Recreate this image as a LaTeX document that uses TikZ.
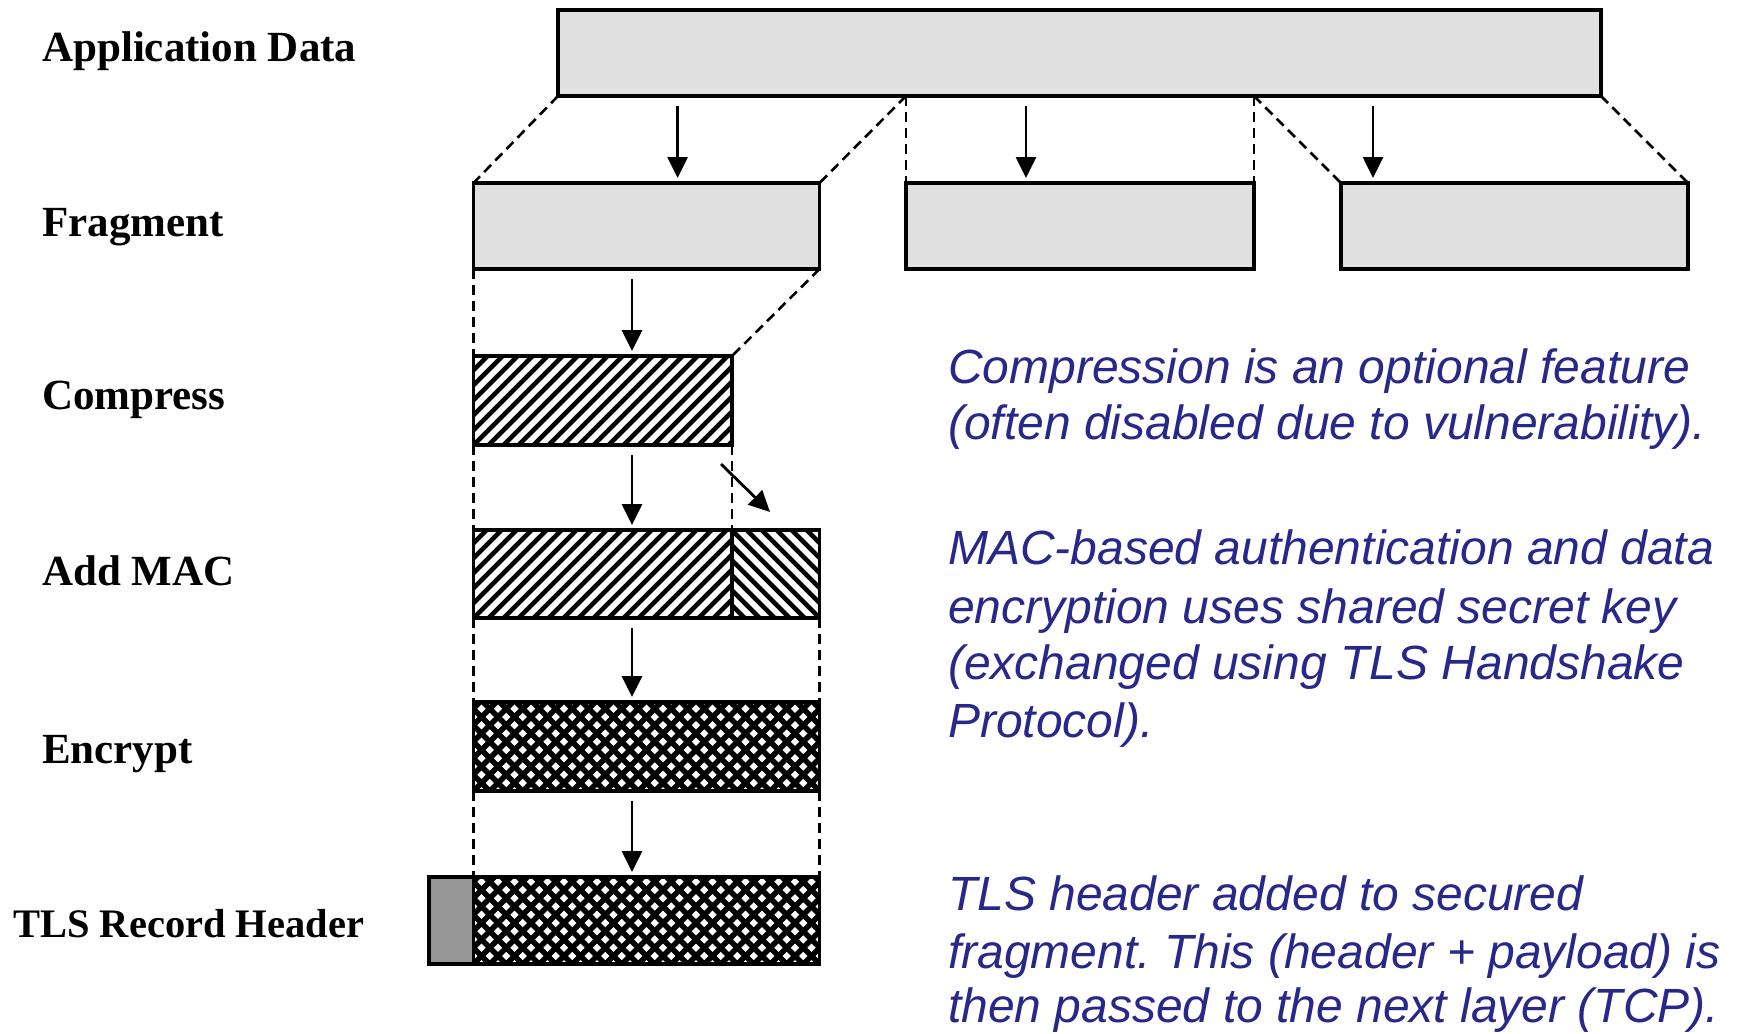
\documentclass[tikz,border=0pt]{standalone}
\usepackage{fontspec}
\setmainfont{Liberation Serif}
\setsansfont{Liberation Sans}
\usetikzlibrary{arrows.meta,calc}
\definecolor{fraggray}{RGB}{224,224,224}
\definecolor{hdrgray}{RGB}{150,150,150}
\definecolor{notecol}{RGB}{40,40,138}
\frenchspacing

\tikzset{
  blk/.style={draw, line width=3.6pt, rectangle, inner sep=0pt, outer sep=0pt, anchor=north west},
  dashedge/.style={line width=2.6pt, dash pattern=on 10pt off 6pt},
  arr/.style={line width=2.8pt, -{Triangle[length=21pt,width=20pt]}, shorten <=10pt, shorten >=5pt},
  lab/.style={anchor=base west, inner sep=0pt, font=\bfseries\fontsize{43}{50}\selectfont},
  note/.style={anchor=base west, inner sep=0pt, text=notecol, font=\sffamily\itshape\fontsize{48}{57}\selectfont},
  % single diagonal hatching, rising to the right
  hatchNE/.style={path picture={
    \foreach \k in {-10,...,28}
      \draw[line width=4.6pt] ([xshift=\k*15pt]path picture bounding box.south west) -- ++(130,-130);
  }},
  % single diagonal hatching, rising to the left
  hatchNW/.style={path picture={
    \foreach \k in {-28,...,10}
      \draw[line width=4.6pt] ([xshift=\k*15pt]path picture bounding box.south east) -- ++(-130,-130);
  }},
  % cross hatching for encrypted data
  hatchX/.style={path picture={
    \foreach \k in {-10,...,30}{
      \draw[line width=5.4pt] ([xshift=\k*16.5pt]path picture bounding box.south west) -- ++(130,-130);
      \draw[line width=5.4pt] ([xshift=-\k*16.5pt]path picture bounding box.south east) -- ++(-130,-130);
    }
  }},
}

\begin{document}
\begin{tikzpicture}[x=1pt,y=-1pt]
\fill[white] (0,0) rectangle (1739,1033);
\useasboundingbox (0,0) rectangle (1739,1033);

% record stages
\node[blk, fill=fraggray, minimum width=1043pt, minimum height=86pt] (app) at (558,10) {};
\node[blk, fill=fraggray, minimum width=346pt, minimum height=86pt] (f1) at (473.5,183) {};
\node[blk, fill=fraggray, minimum width=348pt, minimum height=86pt] (f2) at (906,183) {};
\node[blk, fill=fraggray, minimum width=347pt, minimum height=86pt] (f3) at (1341,183) {};
\node[blk, fill=white, hatchNE, minimum width=258.5pt, minimum height=89pt] (comp) at (473.5,356) {};
\node[blk, fill=white, hatchNE, minimum width=258.5pt, minimum height=88pt] (macL) at (473.5,530) {};
\node[blk, fill=white, hatchNW, minimum width=87.5pt, minimum height=88pt] (macR) at (732,530) {};
\node[blk, fill=white, hatchX, minimum width=346pt, minimum height=89pt] (enc) at (473.5,702) {};
\node[blk, fill=hdrgray, minimum width=44.5pt, minimum height=87pt] (hdr) at (429,877) {};
\node[blk, fill=white, hatchX, minimum width=346pt, minimum height=87pt] (pay) at (473.5,877) {};

% split points on the application data
\coordinate (s1) at (app.south west -| f2.north west);
\coordinate (s2) at (app.south west -| f2.north east);

% dashed outlines between stages
\draw[dashedge] (app.south west) -- (f1.north west);
\draw[dashedge] (s1) -- (f1.north east);
\draw[dashedge] (s1) -- (f2.north west);
\draw[dashedge] (s2) -- (f2.north east);
\draw[dashedge] (s2) -- (f3.north west);
\draw[dashedge] (app.south east) -- (f3.north east);
\draw[dashedge] (f1.south west) -- (comp.north west);
\draw[dashedge] (f1.south east) -- (comp.north east);
\draw[dashedge] (comp.south west) -- (macL.north west);
\draw[dashedge] (comp.south east) -- (macL.north east);
\draw[dashedge] (macL.south west) -- (enc.north west);
\draw[dashedge] (macR.south east) -- (enc.north east);
\draw[dashedge] (enc.south west) -- (pay.north west);
\draw[dashedge] (enc.south east) -- (pay.north east);

% processing arrows
\coordinate (ax1) at (677.6,0);
\coordinate (ax2) at (1026,0);
\coordinate (ax3) at (1373,0);
\coordinate (ax4) at (632,0);
\draw[arr] (app.south -| ax1) -- (f1.north -| ax1);
\draw[arr] (app.south -| ax2) -- (f2.north -| ax2);
\draw[arr] (app.south -| ax3) -- (f3.north -| ax3);
\draw[arr] (f1.south -| ax4) -- (comp.north -| ax4);
\draw[arr] (comp.south -| ax4) -- (macL.north -| ax4);
\draw[arr] (macL.south -| ax4) -- (enc.north -| ax4);
\draw[arr] (enc.south -| ax4) -- (pay.north -| ax4);
\draw[arr, shorten <=0pt, shorten >=0pt] ([shift={(-11,19)}]comp.south east) -- ([shift={(38,-18)}]macR.north west);

% stage labels
\node[lab] (lApp) at (42,62) {Application Data};
\node[lab] (lFrag) at (42,236) {Fragment};
\node[lab] (lComp) at (42,409) {Compress};
\node[lab] (lMac) at (42,585) {Add MAC};
\node[lab] (lEnc) at (42,763) {Encrypt};
\node[lab, font=\bfseries\fontsize{40.5}{48}\selectfont] (lTls) at (13,937) {TLS Record Header};

% notes
\node[note] (n1a) at (948,383.7) {Compression is an optional feature};
\node[note] (n1b) at (948,439.2) {(often disabled due to vulnerability).};
\node[note] (n2a) at (948,564.5) {MAC-based authentication and data};
\node[note] (n2b) at (948,623.3) {encryption uses shared secret key};
\node[note] (n2c) at (948,679.8) {(exchanged using TLS Handshake};
\node[note] (n2d) at (948,737.5) {Protocol).};
\node[note] (n3a) at (948,910.5) {TLS header added to secured};
\node[note] (n3b) at (948,968.2) {fragment. This (header + payload) is};
\node[note] (n3c) at (948,1022) {then passed to the next layer (TCP).};
\end{tikzpicture}
\end{document}
